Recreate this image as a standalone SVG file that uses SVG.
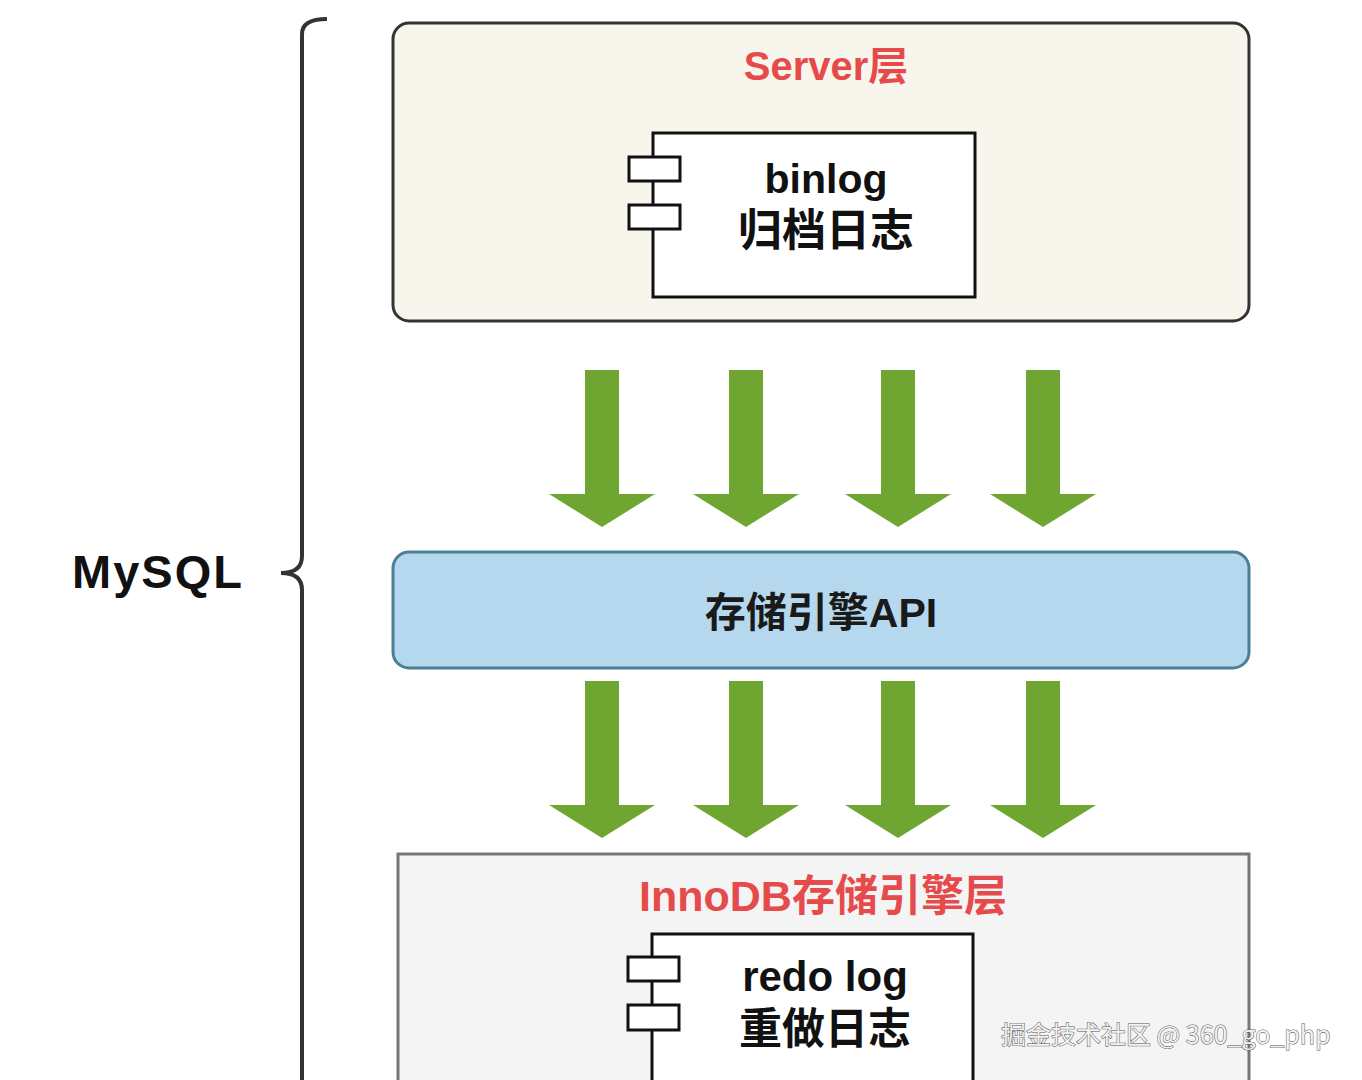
<svg xmlns="http://www.w3.org/2000/svg" width="1362" height="1080" viewBox="0 0 1362 1080">
<defs>
<style>
.t{font-family:"Liberation Sans","Noto Sans CJK SC",sans-serif;text-anchor:middle}
.red{fill:#e64b4b;font-weight:bold}
.blk{fill:#111;font-weight:bold}
.arrow{fill:#6fa632}
.port{fill:#fff;stroke:#111;stroke-width:3}
.wm{font-family:"Noto Sans CJK SC","Liberation Sans",sans-serif;font-size:25px;fill:#f2f2f2;stroke:#555;stroke-width:1;paint-order:stroke}
</style>
<polygon id="arr" points="-17,0 17,0 17,124 53,124 0,157 -53,124 -17,124"/>
</defs>
<rect width="1362" height="1080" fill="#fff"/>
<g id="mysql">
<text class="t" x="157" y="588" font-size="47" font-weight="bold" fill="#111" textLength="170" lengthAdjust="spacing">MySQL</text>
<path d="M327,19 Q302,19 302,34 L302,556 Q302,573 281,573 Q302,573 302,590 L302,1085" fill="none" stroke="#333" stroke-width="4"/>
</g>
<g id="server">
<rect x="393" y="23" width="856" height="298" rx="16" fill="#f8f5ec" stroke="#333" stroke-width="3"/>
<text class="t red" x="826" y="80" font-size="40">Server层</text>
</g>
<g id="binlog">
<rect x="653" y="133" width="322" height="164" fill="#fff" stroke="#111" stroke-width="3"/>
<rect class="port" x="629" y="157" width="51" height="24"/>
<rect class="port" x="629" y="205" width="51" height="24"/>
<text class="t blk" x="826" y="193" font-size="41">binlog</text>
<text class="t blk" x="826" y="246" font-size="44">归档日志</text>
</g>
<g id="connectors">
<use href="#arr" class="arrow" x="602" y="370"/>
<use href="#arr" class="arrow" x="746" y="370"/>
<use href="#arr" class="arrow" x="898" y="370"/>
<use href="#arr" class="arrow" x="1043" y="370"/>
<use href="#arr" class="arrow" x="602" y="681"/>
<use href="#arr" class="arrow" x="746" y="681"/>
<use href="#arr" class="arrow" x="898" y="681"/>
<use href="#arr" class="arrow" x="1043" y="681"/>
</g>
<g id="api">
<rect x="393" y="552" width="856" height="116" rx="16" fill="#b5d8ef" stroke="#4a7f95" stroke-width="3"/>
<text class="t" x="821" y="627" font-size="41" font-weight="bold" fill="#1a1a1a">存储引擎API</text>
</g>
<g id="innodb">
<rect x="398" y="854" width="851" height="240" fill="#f4f4f4" stroke="#777" stroke-width="3"/>
<text class="t red" x="823" y="911" font-size="43">InnoDB存储引擎层</text>
</g>
<g id="redolog">
<rect x="652" y="934" width="321" height="160" fill="#fff" stroke="#111" stroke-width="3"/>
<rect class="port" x="628" y="957" width="51" height="24"/>
<rect class="port" x="628" y="1005" width="51" height="25"/>
<text class="t blk" x="825" y="991" font-size="42">redo log</text>
<text class="t blk" x="825" y="1044" font-size="43">重做日志</text>
</g>
<text class="wm" x="1001" y="1044">掘金技术社区 @ 360_go_php</text>
</svg>
